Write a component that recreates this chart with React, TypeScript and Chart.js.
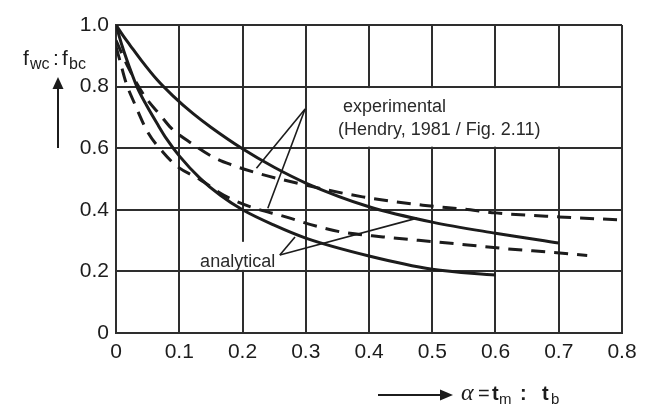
import React, { useEffect, useRef } from "react";
import { Chart, registerables } from "chart.js";

Chart.register(...registerables);

// ---- axis ticks ----
const xTickValues = [0, 0.1, 0.2, 0.3, 0.4, 0.5, 0.6, 0.7, 0.8];
const xTickLabels = ["0", "0.1", "0.2", "0.3", "0.4", "0.5", "0.6", "0.7", "0.8"];
const yTickValues = [0, 0.2, 0.4, 0.6, 0.8, 1.0];
const yTickLabels = ["0", "0.2", "0.4", "0.6", "0.8", "1.0"];

// ---- series ----
const analyticalUpperX = [0, 0.012, 0.022, 0.04, 0.065, 0.09, 0.122, 0.15, 0.2, 0.25, 0.3, 0.4, 0.5, 0.6, 0.7];
const analyticalUpperY = [1.0, 0.963, 0.935, 0.885, 0.822, 0.77, 0.712, 0.668, 0.598, 0.538, 0.487, 0.41, 0.36, 0.324, 0.292];

const analyticalLowerX = [0, 0.01, 0.02, 0.033, 0.048, 0.065, 0.08, 0.1, 0.133, 0.165, 0.2, 0.25, 0.3, 0.4, 0.5, 0.6];
const analyticalLowerY = [1.0, 0.93, 0.87, 0.8, 0.74, 0.68, 0.63, 0.575, 0.502, 0.447, 0.4, 0.35, 0.308, 0.25, 0.207, 0.188];

const experimentalUpperX = [0, 0.02, 0.045, 0.071, 0.087, 0.12, 0.152, 0.18, 0.222, 0.3, 0.39, 0.485, 0.55, 0.6, 0.7, 0.8];
const experimentalUpperY = [0.95, 0.86, 0.77, 0.705, 0.666, 0.615, 0.573, 0.548, 0.52, 0.48, 0.442, 0.415, 0.402, 0.39, 0.377, 0.367];

const experimentalLowerX = [0, 0.006, 0.015, 0.03, 0.051, 0.074, 0.096, 0.133, 0.17, 0.215, 0.267, 0.308, 0.356, 0.422, 0.504, 0.556, 0.62, 0.69, 0.745];
const experimentalLowerY = [0.93, 0.886, 0.818, 0.742, 0.649, 0.588, 0.542, 0.498, 0.448, 0.408, 0.378, 0.352, 0.328, 0.312, 0.296, 0.286, 0.273, 0.262, 0.252];

// ---- annotation anchors (data units) ----
const expLabelLines = ["experimental", "(Hendry, 1981 / Fig. 2.11)"];
const anaLabel = "analytical";
const expApex = [0.299, 0.727];
const expEnds = [[0.222, 0.535], [0.24, 0.405]];
const anaApex = [0.259, 0.253];
const anaEnds = [[0.283, 0.312], [0.476, 0.373]];

const INK = "#1c1c1c";
const GRID = "#2e2e2e";
const SANS = "'Liberation Sans', Arial, Helvetica, sans-serif";

const toPts = (xs: number[], ys: number[]) => xs.map((x, i) => ({ x, y: ys[i] }));

const overlayPlugin = {
  id: "overlay",
  beforeDatasetsDraw(chart: any) {
    const { ctx, scales } = chart;
    const x = scales.x, y = scales.y;
    ctx.save();
    ctx.fillStyle = "#ffffff";
    // white cell behind the "experimental" note
    const l = x.getPixelForValue(0.3) + 1.5;
    const r = x.getPixelForValue(0.8) - 1.5;
    const t = y.getPixelForValue(0.8) + 1.5;
    const b = y.getPixelForValue(0.6) - 1.5;
    ctx.fillRect(l, t, r - l, b - t);
    // white patch behind "analytical"
    const al = x.getPixelForValue(0.125);
    const ar = x.getPixelForValue(0.262);
    const at = y.getPixelForValue(0.296);
    const ab = y.getPixelForValue(0.2) - 1.5;
    ctx.fillRect(al, at, ar - al, ab - at);
    ctx.restore();
  },
  afterDatasetsDraw(chart: any) {
    const { ctx, scales } = chart;
    const x = scales.x, y = scales.y;
    const P = (p: number[]) => [x.getPixelForValue(p[0]), y.getPixelForValue(p[1])];
    ctx.save();
    // leader lines
    ctx.strokeStyle = INK;
    ctx.lineWidth = 1.6;
    const leader = (apex: number[], ends: number[][]) => {
      const a = P(apex);
      ends.forEach((e) => {
        const q = P(e);
        ctx.beginPath();
        ctx.moveTo(a[0], a[1]);
        ctx.lineTo(q[0], q[1]);
        ctx.stroke();
      });
    };
    leader(expApex, expEnds);
    leader(anaApex, anaEnds);

    // notes
    ctx.fillStyle = "#2a2a2a";
    ctx.font = `18px ${SANS}`;
    ctx.textBaseline = "alphabetic";
    ctx.textAlign = "left";
    ctx.fillText(expLabelLines[0], x.getPixelForValue(0.359), y.getPixelForValue(0.7175));
    ctx.fillText(expLabelLines[1], x.getPixelForValue(0.351), y.getPixelForValue(0.643));
    ctx.fillText(anaLabel, x.getPixelForValue(0.133), y.getPixelForValue(0.214));

    // y-axis title: f_wc : f_bc
    ctx.fillStyle = INK;
    const big = `21px ${SANS}`;
    const sub = `16px ${SANS}`;
    ctx.font = big; ctx.fillText("f", 23, 65);
    ctx.font = sub; ctx.fillText("wc", 30, 69);
    ctx.font = big; ctx.fillText(":", 53, 65);
    ctx.font = big; ctx.fillText("f", 62, 65);
    ctx.font = sub; ctx.fillText("bc", 69, 69);

    // up arrow
    ctx.lineWidth = 2;
    ctx.beginPath();
    ctx.moveTo(58, 148);
    ctx.lineTo(58, 86);
    ctx.stroke();
    ctx.beginPath();
    ctx.moveTo(58, 77);
    ctx.lineTo(52.5, 89);
    ctx.lineTo(63.5, 89);
    ctx.closePath();
    ctx.fill();

    // right arrow + x title: α = t_m : t_b
    ctx.beginPath();
    ctx.moveTo(378, 395);
    ctx.lineTo(442, 395);
    ctx.stroke();
    ctx.beginPath();
    ctx.moveTo(453, 395);
    ctx.lineTo(440, 389.5);
    ctx.lineTo(440, 400.5);
    ctx.closePath();
    ctx.fill();

    ctx.font = `italic 24px 'Liberation Serif', 'DejaVu Serif', serif`;
    ctx.fillText("α", 461, 400);
    ctx.font = `20px ${SANS}`;
    ctx.fillText("=", 478, 400);
    ctx.font = `bold 20px ${SANS}`;
    ctx.fillText("t", 492, 400);
    ctx.font = `15px ${SANS}`;
    ctx.fillText("m", 499, 404);
    ctx.font = `bold 20px ${SANS}`;
    ctx.fillText(":", 520, 400);
    ctx.fillText("t", 542, 400);
    ctx.font = `15px ${SANS}`;
    ctx.fillText("b", 551, 404);
    ctx.restore();
  },
};

export default function App() {
  const ref = useRef<HTMLCanvasElement | null>(null);

  useEffect(() => {
    if (!ref.current) return;
    const lineStyle = {
      borderColor: INK,
      borderWidth: 3,
      pointRadius: 0,
      pointHoverRadius: 0,
      fill: false,
      cubicInterpolationMode: "monotone" as const,
      borderCapStyle: "butt" as const,
      borderJoinStyle: "round" as const,
    };
    const chart = new Chart(ref.current, {
      type: "line",
      data: {
        datasets: [
          { ...lineStyle, label: "analytical (upper)", data: toPts(analyticalUpperX, analyticalUpperY) },
          { ...lineStyle, label: "analytical (lower)", data: toPts(analyticalLowerX, analyticalLowerY) },
          { ...lineStyle, label: "experimental (upper)", borderDash: [14, 9], data: toPts(experimentalUpperX, experimentalUpperY) },
          { ...lineStyle, label: "experimental (lower)", borderDash: [14, 9], data: toPts(experimentalLowerX, experimentalLowerY) },
        ],
      },
      options: {
        responsive: false,
        animation: false,
        devicePixelRatio: 1,
        layout: { padding: { top: 25, right: 48, left: 0, bottom: 0 } },
        plugins: { legend: { display: false }, title: { display: false }, tooltip: { enabled: false } },
        events: [],
        scales: {
          x: {
            type: "linear",
            min: 0,
            max: 0.8,
            afterBuildTicks: (s: any) => { s.ticks = xTickValues.map((v) => ({ value: v })); },
            afterFit: (s: any) => { s.height = 73; },
            ticks: {
              padding: 7,
              color: INK,
              font: { family: SANS, size: 21 },
              maxRotation: 0,
              autoSkip: false,
              callback: (v: any) => {
                const i = xTickValues.findIndex((t) => Math.abs(t - Number(v)) < 1e-6);
                return i >= 0 ? xTickLabels[i] : "";
              },
            },
            grid: { color: GRID, lineWidth: 2, drawTicks: false },
            border: { display: true, color: GRID, width: 2 },
          },
          y: {
            type: "linear",
            min: 0,
            max: 1,
            afterBuildTicks: (s: any) => { s.ticks = yTickValues.map((v) => ({ value: v })); },
            afterFit: (s: any) => { s.width = 116; },
            ticks: {
              padding: 7,
              color: INK,
              font: { family: SANS, size: 21 },
              autoSkip: false,
              callback: (v: any) => {
                const i = yTickValues.findIndex((t) => Math.abs(t - Number(v)) < 1e-6);
                return i >= 0 ? yTickLabels[i] : "";
              },
            },
            grid: { color: GRID, lineWidth: 2, drawTicks: false },
            border: { display: true, color: GRID, width: 2 },
          },
        },
      },
      plugins: [overlayPlugin],
    });
    return () => chart.destroy();
  }, []);

  return (
    <div style={{ position: "fixed", left: 0, top: 0, width: 670, height: 406, background: "#ffffff" }}>
      <canvas ref={ref} width={670} height={406} style={{ display: "block" }} />
    </div>
  );
}
